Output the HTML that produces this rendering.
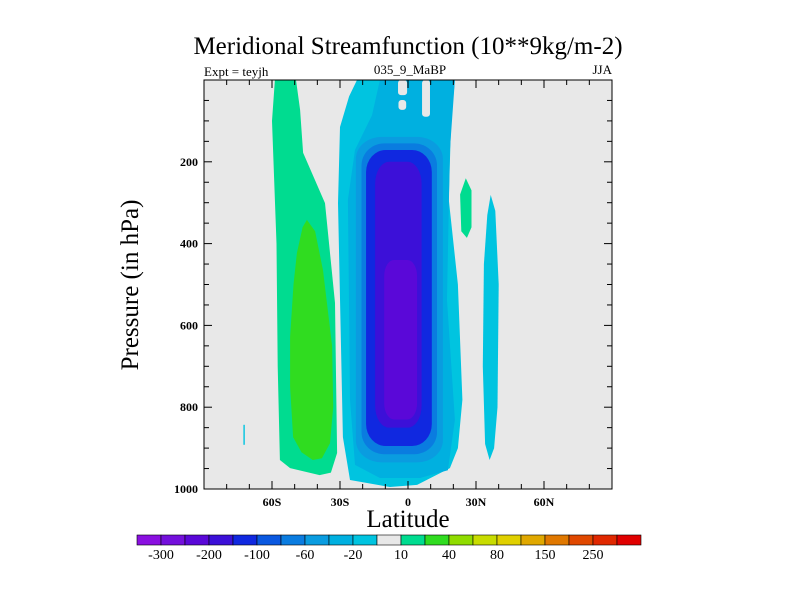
<!DOCTYPE html>
<html><head><meta charset="utf-8"><style>
body{margin:0;background:#fff;}
svg text{font-family:"Liberation Serif",serif;fill:#000;}
</style></head><body>
<svg id="c" width="800" height="600" xmlns="http://www.w3.org/2000/svg">
<text x="408" y="54" font-size="25" text-anchor="middle">Meridional Streamfunction (10**9kg/m-2)</text>
<text x="204" y="76" font-size="13">Expt = teyjh</text>
<text x="410" y="74" font-size="13" text-anchor="middle">035_9_MaBP</text>
<text x="612" y="74" font-size="13" text-anchor="end">JJA</text>
<text x="408" y="527" font-size="25" text-anchor="middle">Latitude</text>
<text transform="translate(138,285) rotate(-90)" font-size="25" text-anchor="middle">Pressure (in hPa)</text>
<g id="plot"></g>
<g id="axes"></g>
<g id="cbar"></g>
</svg>
<script>
const latRange=[-90,90], pRange=[0,1000];
const xTicks=[-60,-30,0,30,60];
const xTickLabels=["60S","30S","0","30N","60N"];
const yTicks=[200,400,600,800,1000];
const levels=[-300,-250,-200,-150,-100,-80,-60,-40,-20,-10,10,20,40,60,80,100,150,200,250,300];
const cbarLabels=["-300","-200","-100","-60","-20","10","40","80","150","250"];
const colors=["#8a10e0","#7410dc","#5a08d8","#3c10d8","#1028e0","#0a58e0","#0a7ce0","#0a9ce0","#00b0e0","#00c4e0","#e8e8e8","#00dc90","#30dc20","#90dc00","#c8dc00","#e0d000","#e0a800","#e07800","#e04800","#e02800","#e00000"];
// contour polygons in [lat, pressure]
const greenOuter=[[-58.7,0],[-49.4,0],[-47.6,73],[-46.3,178],[-36.6,301],[-32.2,545],[-31.3,912],[-34,960],[-39,966],[-52,949],[-56.5,929],[-57.5,700],[-58,400],[-60,100]];
const greenInner=[[-44.6,342],[-41,370],[-37.5,465],[-33.5,650],[-33,800],[-34.4,888],[-38,925],[-42,929],[-47,910],[-50.7,873],[-52,750],[-52,628],[-50.5,500],[-49,423],[-46.5,360]];
const blueOuter=[[-22.5,0],[20.7,0],[19,100],[18,293],[22,500],[24,782],[22,900],[18.5,949],[4,990],[-8,995],[-25.6,978],[-28.7,873],[-30.9,301],[-30,115],[-26,40]];
const blue2=[[-12.4,0],[20.7,0],[18.5,171],[17.2,538],[20.7,831],[17.6,954],[5.3,973],[-12.4,973],[-23.4,941],[-25.6,782],[-26.5,293],[-23.4,171],[-15.9,86]];
// inner cells: [latMin, latMax, pTop, pBottom]
const innerCells=[[-23,15.4,139,935],[-20.5,12.8,155,915],[-18.5,10.5,171,895],[-14.5,6,200,850],[-10.5,4,440,830]];
const innerColors=[colors[7],colors[6],colors[4],colors[3],colors[2]];
const gaps=[[-4.4,-0.4,0,37],[-4.2,-0.8,49,73],[6.2,9.7,0,90]];
const rightStrip=[[36.5,281],[38.5,320],[40,500],[39.5,800],[38,900],[36,929],[34,890],[33,700],[33.5,450],[35,330]];
const smallGreen=[[25.5,240],[28,270],[28,360],[26,386],[23.5,370],[23,280]];
const tinyCyan=[[-72.6,843],[-72,843],[-72,892],[-72.6,892]];

const X0=204,X1=612,Y0=80,Y1=489;
const sx=v=>X0+(v-latRange[0])/(latRange[1]-latRange[0])*(X1-X0);
const sy=v=>Y0+(v-pRange[0])/(pRange[1]-pRange[0])*(Y1-Y0);
const NS="http://www.w3.org/2000/svg";
const plot=document.getElementById('plot'),axes=document.getElementById('axes'),cb=document.getElementById('cbar');
function mk(t,a,parent){const e=document.createElementNS(NS,t);for(const k in a)e.setAttribute(k,a[k]);parent.appendChild(e);return e;}
const bg=mk('rect',{x:X0,y:Y0,width:X1-X0,height:Y1-Y0,fill:'#e8e8e8'},plot);


function poly(pts,fill,name){
  const d=pts.map((p,i)=>(i?'L':'M')+sx(p[0]).toFixed(1)+' '+sy(p[1]).toFixed(1)).join(' ')+'Z';
  const e=mk('path',{d:d,fill:fill,'stroke-linejoin':'round'},plot);
  
  
}
poly(greenOuter,colors[11],'contour-green-outer');
poly(greenInner,colors[12],'contour-green-inner');
poly(blueOuter,colors[9],'contour-cyan-outer');
poly(blue2,colors[8],'contour-blue-2');
innerCells.forEach((c,i)=>{
  const x=sx(c[0]),w=sx(c[1])-x,y=sy(c[2]),h=sy(c[3])-y;
  const e=mk('rect',{x:x,y:y,width:w,height:h,rx:w*0.3,ry:Math.min(h*0.1,22),fill:innerColors[i]},plot);
  
  
});
gaps.forEach(g=>{
  const e=mk('rect',{x:sx(g[0]),y:sy(g[2]),width:sx(g[1])-sx(g[0]),height:sy(g[3])-sy(g[2]),rx:3,fill:'#e8e8e8'},plot);
  
  
});
poly(rightStrip,colors[9],'contour-right-strip');
poly(smallGreen,colors[11],'contour-small-green');
poly(tinyCyan,colors[9],'contour-tiny-cyan');

const fr=mk('rect',{x:X0,y:Y0,width:X1-X0,height:Y1-Y0,fill:'none',stroke:'#000','stroke-width':1},axes);


for(let v=-80;v<=80;v+=10){
  const x=sx(v),maj=xTicks.includes(v),L=maj?8:5;
  mk('line',{x1:x,x2:x,y1:Y1,y2:Y1-L,stroke:'#000'},axes);
  mk('line',{x1:x,x2:x,y1:Y0,y2:Y0+L,stroke:'#000'},axes);
}
xTicks.forEach((v,i)=>{
  const t=mk('text',{x:sx(v),y:Y1+17,'font-size':12,'text-anchor':'middle','font-weight':'bold'},axes);
  t.textContent=xTickLabels[i];
  
  
});
for(let v=50;v<=1000;v+=50){
  const y=sy(v),maj=yTicks.includes(v),L=maj?8:5;
  mk('line',{x1:X0,x2:X0+L,y1:y,y2:y,stroke:'#000'},axes);
  mk('line',{x1:X1,x2:X1-L,y1:y,y2:y,stroke:'#000'},axes);
}
yTicks.forEach(v=>{
  const t=mk('text',{x:X0-6,y:sy(v)+4,'font-size':12,'text-anchor':'end','font-weight':'bold'},axes);
  t.textContent=v;
  
  
});
// colorbar
const CBX=137,CBY=535,CBW=24,CBH=10;
colors.forEach((c,i)=>{
  const e=mk('rect',{x:CBX+i*CBW,y:CBY,width:CBW,height:CBH,fill:c,stroke:'#000','stroke-width':0.6},cb);
  
  
});
cbarLabels.forEach((l,i)=>{
  const t=mk('text',{x:CBX+(1+2*i)*CBW,y:CBY+24,'font-size':14,'text-anchor':'middle'},cb);
  t.textContent=l;
  
  
});
</script>
</body></html>
